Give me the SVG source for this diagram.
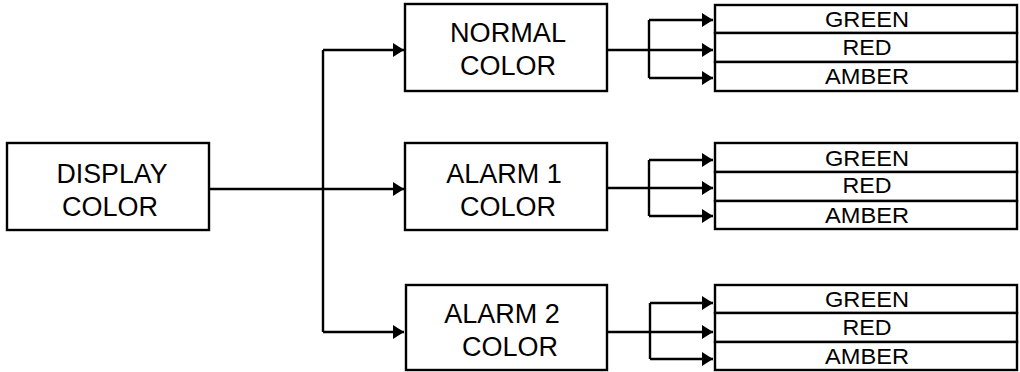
<svg xmlns="http://www.w3.org/2000/svg" width="1020" height="372" viewBox="0 0 1020 372">
<defs>
<marker id="arr" markerUnits="userSpaceOnUse" markerWidth="11" markerHeight="14" refX="11" refY="7" orient="auto">
<path d="M0,0 L11,7 L0,14 z" fill="#000"/>
</marker>
<style>
.box{fill:#fff;stroke:#000;stroke-width:2.4}
.t{font-family:"Liberation Sans",Arial,sans-serif;font-size:27px;fill:#000;text-anchor:middle}
.s{font-family:"Liberation Sans",Arial,sans-serif;font-size:22px;fill:#000;text-anchor:middle}
.c{fill:none;stroke:#000;stroke-width:2.4}
.a{fill:none;stroke:#000;stroke-width:2.4;marker-end:url(#arr)}
</style>
</defs>
<rect width="1020" height="372" fill="#fff"/>
<g id="connectors">
<path class="a" d="M209,189 L404,189"/>
<path class="c" d="M323,50 L323,332"/>
<path class="a" d="M323,50 L404,50"/>
<path class="a" d="M323,332 L404,332"/>
<path class="a" d="M607,50 L713,50"/>
<path class="c" d="M649,20 L649,78"/>
<path class="a" d="M649,20 L713,20"/>
<path class="a" d="M649,78 L713,78"/>
<path class="a" d="M607,188 L713,188"/>
<path class="c" d="M649,160 L649,216"/>
<path class="a" d="M649,160 L713,160"/>
<path class="a" d="M649,216 L713,216"/>
<path class="a" d="M607,332 L713,332"/>
<path class="c" d="M650,303 L650,359"/>
<path class="a" d="M650,303 L713,303"/>
<path class="a" d="M650,359 L713,359"/>
</g>
<g id="display">
<rect class="box" x="7" y="143" width="202" height="87"/>
<text class="t" x="112" y="183" textLength="111" lengthAdjust="spacingAndGlyphs">DISPLAY</text>
<text class="t" x="110" y="216">COLOR</text>
</g>
<g id="normal">
<rect class="box" x="405" y="4" width="202" height="87"/>
<text class="t" x="508" y="42" textLength="116" lengthAdjust="spacingAndGlyphs">NORMAL</text>
<text class="t" x="508" y="75">COLOR</text>
</g>
<g id="alarm1">
<rect class="box" x="405" y="143" width="202" height="87"/>
<text class="t" x="504" y="183">ALARM 1</text>
<text class="t" x="508" y="216">COLOR</text>
</g>
<g id="alarm2">
<rect class="box" x="406" y="285" width="201" height="85"/>
<text class="t" x="502" y="323">ALARM 2</text>
<text class="t" x="510" y="356">COLOR</text>
</g>
<g id="normal-options">
<rect class="box" x="715" y="5" width="302" height="28"/>
<rect class="box" x="715" y="33" width="302" height="29"/>
<rect class="box" x="715" y="62" width="302" height="29"/>
<text class="s" x="867" y="27" textLength="84" lengthAdjust="spacingAndGlyphs">GREEN</text>
<text class="s" x="867" y="55" textLength="49" lengthAdjust="spacingAndGlyphs">RED</text>
<text class="s" x="867" y="84" textLength="84" lengthAdjust="spacingAndGlyphs">AMBER</text>
</g>
<g id="alarm1-options">
<rect class="box" x="715" y="143" width="302" height="29"/>
<rect class="box" x="715" y="172" width="302" height="29"/>
<rect class="box" x="715" y="201" width="302" height="28"/>
<text class="s" x="867" y="166" textLength="84" lengthAdjust="spacingAndGlyphs">GREEN</text>
<text class="s" x="867" y="193" textLength="49" lengthAdjust="spacingAndGlyphs">RED</text>
<text class="s" x="867" y="223" textLength="84" lengthAdjust="spacingAndGlyphs">AMBER</text>
</g>
<g id="alarm2-options">
<rect class="box" x="715" y="285" width="302" height="28"/>
<rect class="box" x="715" y="313" width="302" height="29"/>
<rect class="box" x="715" y="342" width="302" height="28"/>
<text class="s" x="867" y="307" textLength="84" lengthAdjust="spacingAndGlyphs">GREEN</text>
<text class="s" x="867" y="335" textLength="49" lengthAdjust="spacingAndGlyphs">RED</text>
<text class="s" x="867" y="364" textLength="84" lengthAdjust="spacingAndGlyphs">AMBER</text>
</g>
</svg>
